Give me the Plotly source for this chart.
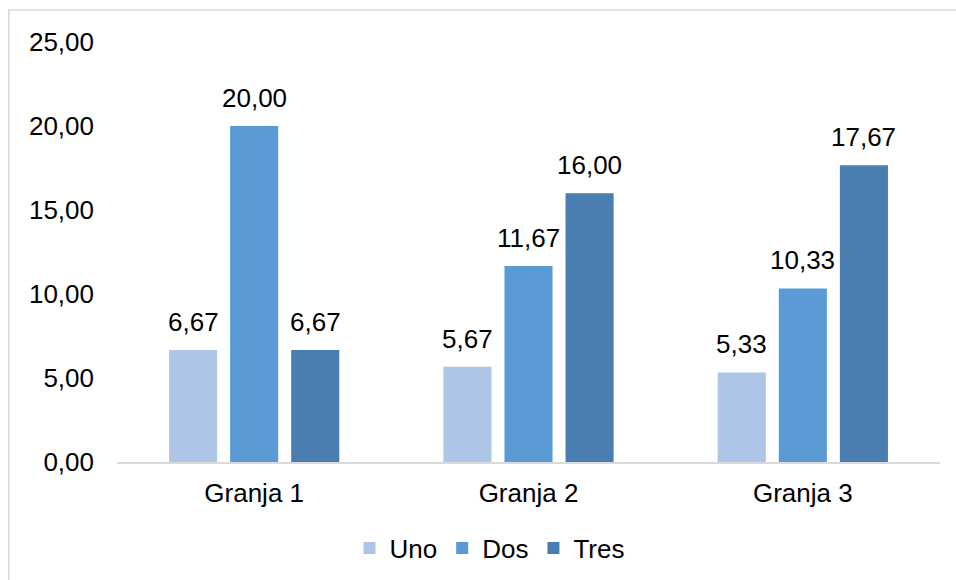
import plotly.graph_objects as go

categories = ["Granja 1", "Granja 2", "Granja 3"]
series_names = ["Uno", "Dos", "Tres"]
uno = [6.67, 5.67, 5.33]
dos = [20.00, 11.67, 10.33]
tres = [6.67, 16.00, 17.67]
y_ticks = [0, 5, 10, 15, 20, 25]
y_tick_labels = ["0,00", "5,00", "10,00", "15,00", "20,00", "25,00"]

colors = ["#adc5e6", "#5b9bd5", "#4a7eb0"]
font_family = "Liberation Sans, Arial, sans-serif"
font_size = 26


def fmt(v):
    return f"{v:.2f}".replace(".", ",")


fig = go.Figure()
for name, vals, col in zip(series_names, [uno, dos, tres], colors):
    fig.add_trace(go.Bar(
        name=name, x=categories, y=vals, marker=dict(color=col, line=dict(width=0)),
    ))

# value labels above each bar
slot_px = 61
annotations = []
for i, vals in enumerate([uno, dos, tres]):
    for cat, v in zip(categories, vals):
        annotations.append(dict(
            x=cat, y=v, xref="x", yref="y", text=fmt(v), showarrow=False,
            xshift=(i - 1) * slot_px, yanchor="bottom", yshift=11,
            font=dict(family=font_family, size=font_size, color="#000000"),
        ))

fig.update_layout(
    width=956, height=580,
    margin=dict(l=117, r=16, t=42, b=118),
    paper_bgcolor="white", plot_bgcolor="white",
    barmode="group", bargap=0.332, bargroupgap=0.213,
    font=dict(family=font_family, size=font_size, color="#000000"),
    showlegend=True,
    legend=dict(orientation="h", xref="container", yref="container",
                x=0.512, xanchor="center", y=0.055, yanchor="middle",
                font=dict(family=font_family, size=font_size), itemwidth=30,
                traceorder="normal"),
    annotations=annotations,
    shapes=[dict(type="rect", xref="paper", yref="paper",
                 x0=-0.1315, x1=1.3, y0=-0.6, y1=1.076,
                 line=dict(color="#d9d9d9", width=1.5), fillcolor="rgba(0,0,0,0)",
                 layer="below")],
)
fig.update_xaxes(showline=True, linecolor="#d9d9d9", linewidth=2, showgrid=False,
                 ticks="", ticklabelstandoff=7, zeroline=False)
fig.update_yaxes(range=[0, 25], tickvals=y_ticks, ticktext=y_tick_labels,
                 showgrid=False, zeroline=False, showline=False, ticks="",
                 ticklabelstandoff=22)

fig.write_html("out.html")
